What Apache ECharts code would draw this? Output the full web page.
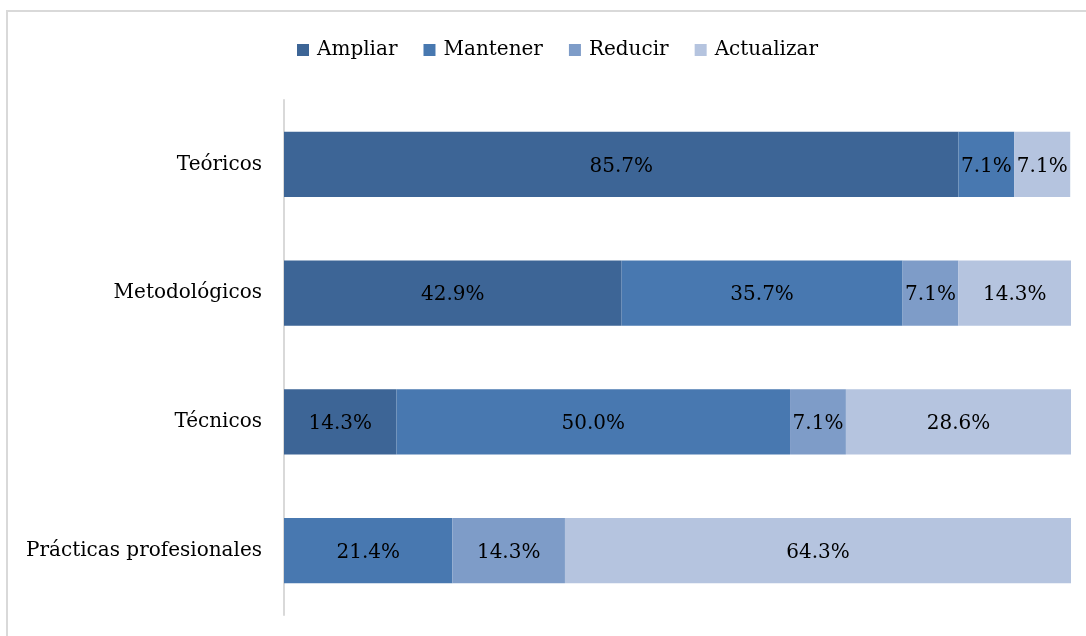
<!DOCTYPE html>
<html>
<head>
<meta charset="utf-8">
<script src="https://cdn.jsdelivr.net/npm/echarts@6/dist/echarts.min.js"></script>
<style>
  html, body { margin: 0; padding: 0; background: #ffffff; }
  #chart { width: 1086px; height: 636px; }
</style>
</head>
<body>
<div id="chart"></div>
<script>
// Categories, top to bottom
const categories = ['Teóricos', 'Metodológicos', 'Técnicos', 'Prácticas profesionales'];
const seriesNames = ['Ampliar', 'Mantener', 'Reducir', 'Actualizar'];
// Percentages per category (same order as categories)
const ampliar    = [85.7, 42.9, 14.3, 0];
const mantener   = [7.1, 35.7, 50.0, 21.4];
const reducir    = [0, 7.1, 7.1, 14.3];
const actualizar = [7.1, 14.3, 28.6, 64.3];

const values = [ampliar, mantener, reducir, actualizar];
const colors = ['#3d6596', '#4878b0', '#7e9cc8', '#b5c4df'];
const FONT = 'DejaVu Serif';

const chart = echarts.init(document.getElementById('chart'));
chart.setOption({
  animation: false,
  textStyle: { fontFamily: FONT },
  graphic: [{
    type: 'rect',
    shape: { x: 7, y: 11, width: 1200, height: 800 },
    style: { fill: 'none', stroke: '#d9d9d9', lineWidth: 2 },
    silent: true
  }],
  legend: {
    top: 35,
    left: 292,
    itemWidth: 12,
    itemHeight: 12,
    itemGap: 26,
    icon: 'rect',
    textStyle: { fontFamily: FONT, fontSize: 20, color: '#000000', padding: [0, 0, 0, 3] },
    data: seriesNames
  },
  grid: { left: 284, right: 15, top: 100, bottom: 21, containLabel: false },
  xAxis: {
    type: 'value', min: 0, max: 100,
    show: false
  },
  yAxis: {
    type: 'category',
    inverse: true,
    data: categories,
    axisLine: { show: true, lineStyle: { color: '#d9d9d9', width: 2 } },
    axisTick: { show: false },
    axisLabel: { fontFamily: FONT, fontSize: 20, color: '#000000', margin: 22, padding: [4, 0, 0, 0] }
  },
  series: values.map((vals, i) => ({
    name: seriesNames[i],
    type: 'bar',
    stack: 'total',
    barCategoryGap: '49.5%',
    itemStyle: { color: colors[i] },
    label: {
      show: true,
      position: 'inside',
      offset: [0, 2],
      fontFamily: FONT,
      fontSize: 20,
      color: '#000000',
      formatter: p => p.value > 0 ? p.value.toFixed(1) + '%' : ''
    },
    data: vals
  }))
});
</script>
</body>
</html>
